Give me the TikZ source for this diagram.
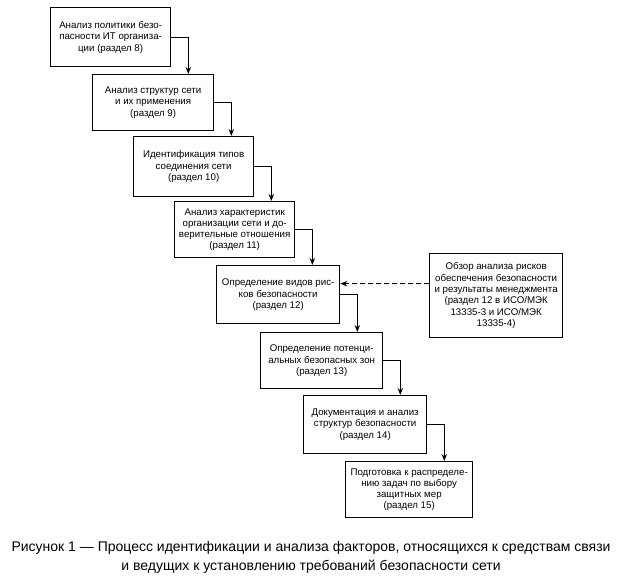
\documentclass[tikz,border=0pt]{standalone}
\usepackage{fontspec}
\setmainfont{Liberation Sans}
\usetikzlibrary{arrows.meta}
\begin{document}
\begin{tikzpicture}[x=1pt,y=-1pt,
  box/.style={draw, line width=1.3pt, anchor=north west, inner sep=0pt, align=center,
    font=\fontsize{9.7}{11.3}\selectfont},
  arr/.style={line width=1.2pt, -{Stealth[length=7pt,width=5.5pt]}},
  dasharr/.style={arr, dash pattern=on 5pt off 3pt},
  capt/.style={align=center, font=\fontsize{14}{19}\selectfont, inner sep=0pt}]
\useasboundingbox (0,0) rectangle (621,587);
\node[box, minimum width=120pt, minimum height=59pt] (b1) at (50,7)
  {Анализ политики безо-\\пасности ИТ организа-\\ции (раздел 8)};
\node[box, minimum width=121pt, minimum height=56pt] (b2) at (92,74)
  {Анализ структур сети\\и их применения\\(раздел 9)};
\node[box, minimum width=120pt, minimum height=60pt] (b3) at (133,136)
  {Идентификация типов\\соединения сети\\(раздел 10)};
\node[box, minimum width=120pt, minimum height=56pt] (b4) at (174,201)
  {Анализ характеристик\\организации сети и до-\\верительные отношения\\(раздел 11)};
\node[box, minimum width=123pt, minimum height=58pt] (b5) at (216,265)
  {Определение видов рис-\\ков безопасности\\(раздел 12)};
\node[box, minimum width=122pt, minimum height=56pt] (b6) at (260,332)
  {Определение потенци-\\альных безопасных зон\\(раздел 13)};
\node[box, minimum width=123pt, minimum height=58pt] (b7) at (303,395)
  {Документация и анализ\\структур безопасности\\(раздел 14)};
\node[box, minimum width=127pt, minimum height=56pt] (b8) at (345,461)
  {Подготовка к распределе-\\нию задач по выбору\\защитных мер\\(раздел 15)};
\node[box, minimum width=133pt, minimum height=84pt] (b9) at (429,253)
  {Обзор анализа рисков\\обеспечения безопасности\\и результаты менеджмента\\(раздел 12 в ИСО/МЭК\\13335-3 и ИСО/МЭК\\13335-4)};
\foreach \a/\b in {b1/b2,b2/b3,b3/b4,b4/b5,b5/b6,b6/b7,b7/b8}{
  \draw[arr] (\a.east) -- ++(17,0) coordinate (t) -- (t |- \b.north);
}
\draw[dasharr] ([yshift=12pt]b9.west) -- ([yshift=12pt]b9.west -| b5.east);
\node[capt] (cap) at (311,557)
  {Рисунок 1 — Процесс идентификации и анализа факторов, относящихся к средствам связи\\
   и ведущих к установлению требований безопасности сети};
\end{tikzpicture}
\end{document}
